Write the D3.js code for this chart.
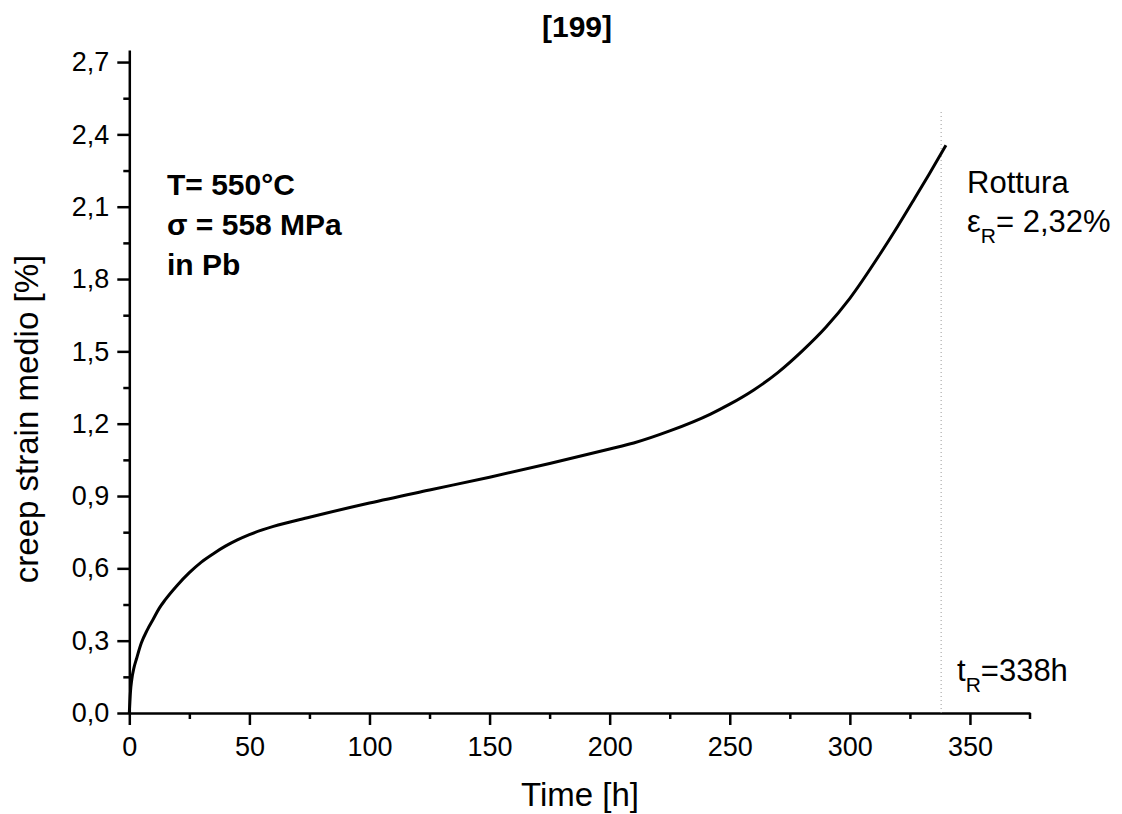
<!DOCTYPE html>
<html>
<head>
<meta charset="utf-8">
<script src="https://cdn.jsdelivr.net/npm/d3@7"></script>
<style>
  body { margin: 0; background: #fff; }
  svg { display: block; font-family: "Liberation Sans", Arial, sans-serif; }
</style>
</head>
<body>
<svg id="chart" width="1122" height="814"></svg>
<script>
// creep curve: time [h] vs mean creep strain [%]
const timeH = [0, 0.5, 1, 2, 3, 5, 7.5, 10, 12.5, 15, 20, 25, 30, 35, 40, 45, 50, 60, 75, 100,
  125, 150, 175, 200, 210, 225, 242, 250, 260, 270, 280, 290, 300, 313, 320, 327, 333, 340];
const strain = [0, 0.09, 0.137, 0.19, 0.225, 0.29, 0.345, 0.39, 0.435, 0.47, 0.53, 0.582,
  0.626, 0.661, 0.692, 0.718, 0.74, 0.774, 0.812, 0.871, 0.925, 0.978, 1.035, 1.095, 1.12, 1.17,
  1.24, 1.281, 1.34, 1.412, 1.50, 1.60, 1.72, 1.91, 2.02, 2.135, 2.235, 2.355];

const xTicks = [0, 50, 100, 150, 200, 250, 300, 350];
const yTicks = [0, 0.3, 0.6, 0.9, 1.2, 1.5, 1.8, 2.1, 2.4, 2.7];
const ruptureTime = 338;
const ruptureLineTop = 2.5;

const svg = d3.select('#chart');
const mLeft = 129.3, mRight = 1030, mTop = 50, mBottom = 713;

const x = d3.scaleLinear().domain([0, 375]).range([mLeft, mRight]);
const y = d3.scaleLinear().domain([0, 2.75]).range([mBottom, mTop]);

const comma = v => d3.format('.1f')(v).replace('.', ',');

// minor ticks first
svg.append('g')
  .attr('transform', `translate(0,${mBottom})`)
  .call(d3.axisBottom(x).tickValues(d3.range(25, 375, 50)).tickSize(6).tickFormat(''))
  .call(g => g.select('.domain').remove())
  .call(g => g.selectAll('line').attr('stroke-width', 2.5));

svg.append('g')
  .attr('transform', `translate(${mLeft},0)`)
  .call(d3.axisLeft(y).tickValues(d3.range(0.15, 2.75, 0.3)).tickSize(6).tickFormat(''))
  .call(g => g.select('.domain').remove())
  .call(g => g.selectAll('line').attr('stroke-width', 2.5));

const xAxis = svg.append('g')
  .attr('transform', `translate(0,${mBottom})`)
  .call(d3.axisBottom(x).tickValues(xTicks).tickSize(12).tickSizeOuter(0).tickPadding(12).tickFormat(d3.format('d')));

const yAxis = svg.append('g')
  .attr('transform', `translate(${mLeft},0)`)
  .call(d3.axisLeft(y).tickValues(yTicks).tickSize(12).tickSizeOuter(0).tickPadding(8).tickFormat(comma));

[xAxis, yAxis].forEach(a => {
  a.select('.domain').attr('stroke-width', 2.5);
  a.selectAll('line').attr('stroke-width', 2.5);
  a.selectAll('text').attr('font-size', 27).attr('fill', '#000')
    .style('font-family', '"Liberation Sans", Arial, sans-serif');
});
// small end tick on the right of the x axis
svg.append('line')
  .attr('x1', x(375)).attr('x2', x(375))
  .attr('y1', mBottom).attr('y2', mBottom + 6)
  .attr('stroke', '#000').attr('stroke-width', 2.5);

// rupture time marker
svg.append('line')
  .attr('x1', x(ruptureTime)).attr('x2', x(ruptureTime))
  .attr('y1', y(0)).attr('y2', y(ruptureLineTop))
  .attr('stroke', '#999').attr('stroke-width', 1)
  .attr('stroke-dasharray', '1,3');

const data = timeH.map((t, i) => ({ t, v: strain[i] }));
svg.append('path')
  .datum(data)
  .attr('fill', 'none')
  .attr('stroke', '#000')
  .attr('stroke-width', 3)
  .attr('d', d3.line().x(d => x(d.t)).y(d => y(d.v)).curve(d3.curveMonotoneX));

// titles
svg.append('text')
  .attr('x', 577).attr('y', 37)
  .attr('text-anchor', 'middle')
  .attr('font-size', 30).attr('font-weight', 'bold')
  .text('[199]');

svg.append('text')
  .attr('x', 580).attr('y', 806)
  .attr('text-anchor', 'middle')
  .attr('font-size', 33)
  .text('Time [h]');

svg.append('text')
  .attr('transform', 'translate(38,419) rotate(-90)')
  .attr('text-anchor', 'middle')
  .attr('font-size', 33)
  .text('creep strain medio [%]');

// test conditions
const cond = svg.append('g').attr('font-size', 30).attr('font-weight', 'bold');
['T= 550°C', 'σ = 558 MPa', 'in Pb'].forEach((s, i) => {
  cond.append('text').attr('x', 167).attr('y', 195 + i * 40).text(s);
});

// rupture annotations
svg.append('text').attr('x', 967).attr('y', 193).attr('font-size', 31).text('Rottura');

const eps = svg.append('text').attr('x', 967).attr('y', 232).attr('font-size', 31);
eps.append('tspan').text('ε');
eps.append('tspan').attr('font-size', 21).attr('dy', 11).text('R');
eps.append('tspan').attr('dy', -11).text('= 2,32%');

const tr = svg.append('text').attr('x', 957).attr('y', 681).attr('font-size', 31);
tr.append('tspan').text('t');
tr.append('tspan').attr('font-size', 21).attr('dy', 11).text('R');
tr.append('tspan').attr('dy', -11).text('=338h');
</script>
</body>
</html>
